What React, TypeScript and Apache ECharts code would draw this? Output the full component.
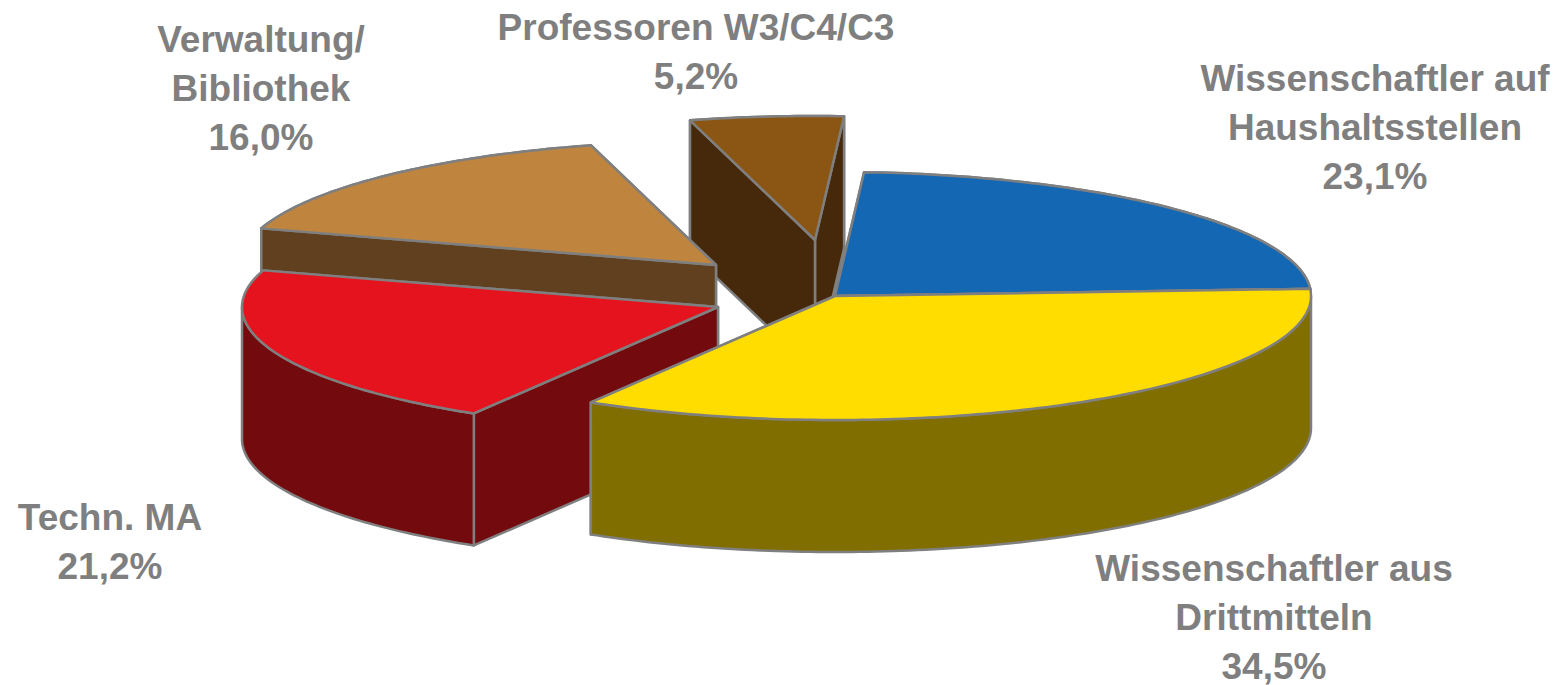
import React, { useEffect, useRef } from "react";
import * as echarts from "echarts";

const categories = ["Wissenschaftler auf\nHaushaltsstellen", "Wissenschaftler aus\nDrittmitteln", "Techn. MA", "Verwaltung/\nBibliothek", "Professoren W3/C4/C3"];
const shares = [23.1, 34.5, 21.2, 16.0, 5.2];
const topColors = ["#1467B3", "#FFDD00", "#E5131D", "#BF853E", "#8B5614"];
const wallColors = ["#0A3359", "#806F00", "#730A0E", "#60401F", "#46290B"];
const apexX = [835, 835, 718, 716, 815];
const apexY = [296, 296, 307, 265, 240];
const drawRank = [3, 4, 2, 1, 0];
const labelX = [1375, 1274, 110, 261, 696];
const labelY = [127, 617, 542, 88, 52];

const START_DEG = 3.5;
const RX = 476;
const RY = 124;
const DEPTH = 132;
const STROKE = "#7F7F7F";
const LINE = 2.5;

function renderSlice(params: any, api: any) {
  const i = params.dataIndex;
  const total = shares.reduce((a, b) => a + b, 0);
  const before = shares.slice(0, i).reduce((a, b) => a + b, 0);
  const from = START_DEG + (before / total) * 360;
  const to = from + (api.value(0) / total) * 360;
  const cx = apexX[i];
  const cy = apexY[i];
  const at = (deg: number, drop = 0) => {
    const r = (deg * Math.PI) / 180;
    return [cx + RX * Math.sin(r), cy - RY * Math.cos(r) + drop];
  };
  const sweep = (a: number, b: number) => {
    const out: number[] = [];
    for (let d = a; d < b; d += 1) out.push(d);
    out.push(b);
    return out;
  };
  const poly = (points: number[][], fill: string, z2: number) => ({
    type: "polygon",
    z2: drawRank[i] * 10 + z2,
    shape: { points },
    style: { fill, stroke: STROKE, lineWidth: LINE, lineJoin: "round" },
  });
  const mid = (((from + to) / 2) * Math.PI) / 180;
  const frontFacing = Math.cos(mid) < 0;
  const wallFrom = frontFacing ? Math.max(from, 90) : from;
  const wallTo = frontFacing ? Math.min(to, 270) : to;
  const wallDegs = sweep(wallFrom, wallTo);
  const wall = wallColors[i];
  const apexLow = [cx, cy + DEPTH];
  const endCut = poly([[cx, cy], at(to), at(to, DEPTH), apexLow], wall, 1);
  const startCut = poly([[cx, cy], at(from), at(from, DEPTH), apexLow], wall, 2);
  const outer = poly(
    [...wallDegs.map((d) => at(d)), ...wallDegs.map((d) => at(d, DEPTH)).reverse()],
    wall,
    frontFacing ? 3 : 0
  );
  const top = poly([[cx, cy], ...sweep(from, to).map((d) => at(d))], topColors[i], 4);
  return { type: "group", children: [outer, endCut, startCut, top] };
}

export default function App() {
  const ref = useRef<HTMLDivElement>(null);
  useEffect(() => {
    const chart = echarts.init(ref.current!, undefined, { renderer: "svg" });
    chart.setOption({
      animation: false,
      backgroundColor: "#ffffff",
      series: [
        {
          type: "custom",
          coordinateSystem: "none",
          renderItem: renderSlice,
          data: shares.map((v) => [v]),
          silent: true,
        },
      ],
      graphic: categories.map((name, i) => ({
        type: "text",
        x: labelX[i],
        y: labelY[i],
        z: 10,
        style: {
          text: `${name}\n${shares[i].toFixed(1).replace(".", ",")}%`,
          fill: "#7F7F7F",
          font: 'bold 37px "Liberation Sans", Arial, sans-serif',
          lineHeight: 49,
          align: "center",
          verticalAlign: "middle",
        },
      })),
    });
    return () => chart.dispose();
  }, []);
  return <div ref={ref} style={{ position: "absolute", left: 0, top: 0, width: 1560, height: 685 }} />;
}
